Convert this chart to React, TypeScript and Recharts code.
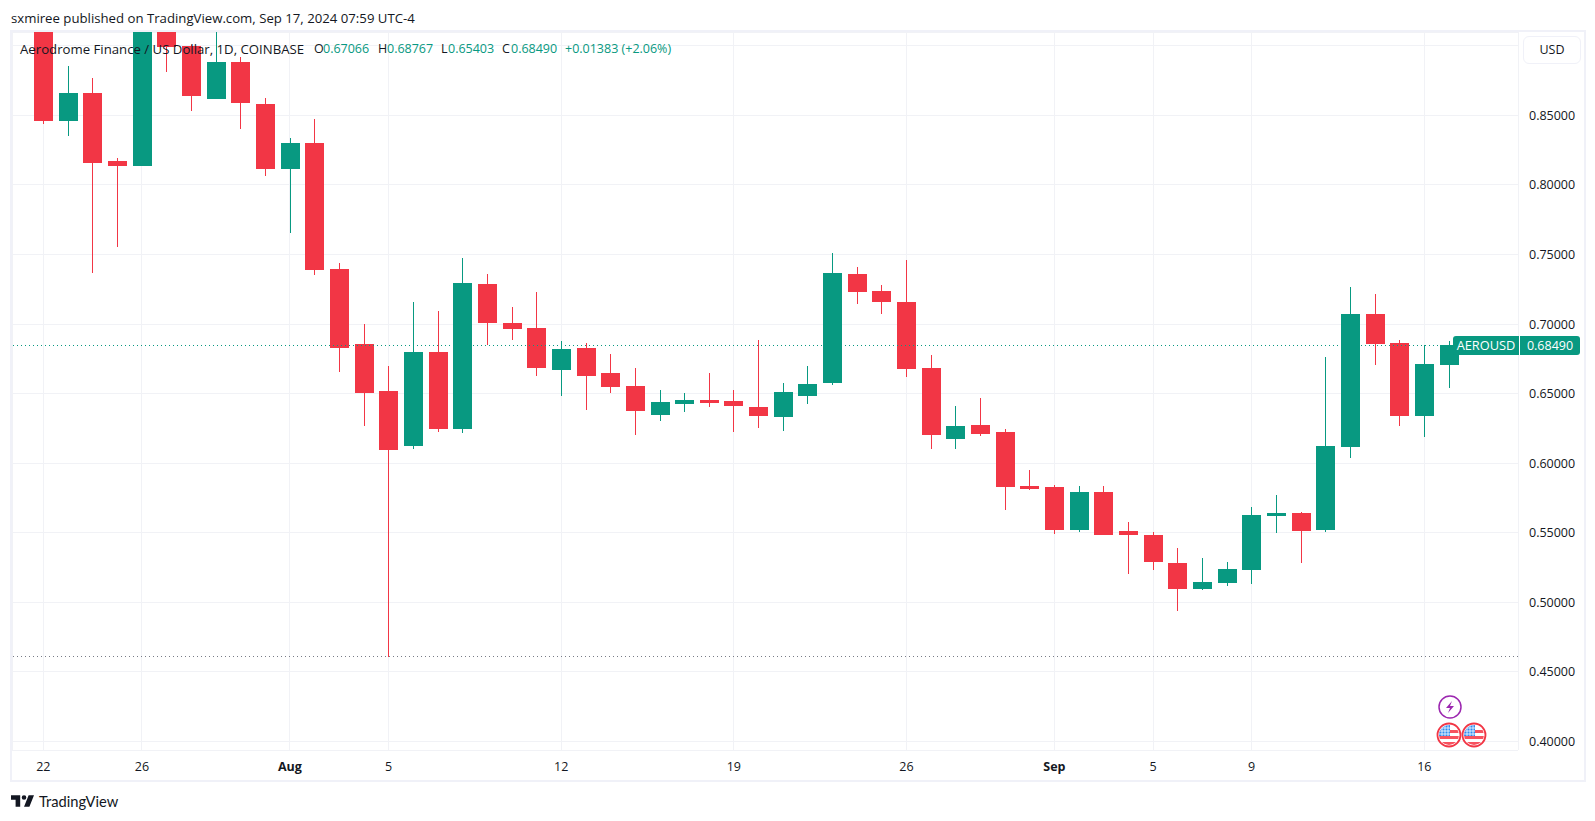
import { Bar, CartesianGrid, ComposedChart, ReferenceLine, XAxis, YAxis } from "recharts";

const UP = "#089981";
const DOWN = "#F23645";
const GRID = "#f1f2f6";
const FRAME = "#f0f1f8";
const INK = "#131722";
const FONT = "'Open Sans', sans-serif";

const months = [
  ["Jul", 22, 31],
  ["Aug", 1, 31],
  ["Sep", 1, 17],
] as const;

const dates: string[] = [];
months.forEach(([m, from, to]) => {
  for (let d = from; d <= to; d++) dates.push(`${m} ${d}`);
});

const opens = [
  0.93, 0.8462, 0.8661, 0.8172, 0.8138, 0.925, 0.8998, 0.862, 0.8883, 0.8581,
  0.8117, 0.8301, 0.7396, 0.6857, 0.6519, 0.6123, 0.6799, 0.6246, 0.7288, 0.7007,
  0.6971, 0.667, 0.6828, 0.6648, 0.6555, 0.6346, 0.6425, 0.6454, 0.6447, 0.6404,
  0.6332, 0.6483, 0.6576, 0.736, 0.7237, 0.7158, 0.6684, 0.6174, 0.6274, 0.6224,
  0.5836, 0.5829, 0.552, 0.5793, 0.5512, 0.5484, 0.5283, 0.5096, 0.5139, 0.5232,
  0.562, 0.5642, 0.552, 0.6116, 0.7072, 0.6864, 0.6339, 0.67066,
];
const closes = [
  0.8462, 0.8661, 0.816, 0.8138, 0.92, 0.8994, 0.8641, 0.8883, 0.8591, 0.8117,
  0.8301, 0.7391, 0.6828, 0.6504, 0.6097, 0.6799, 0.6246, 0.7295, 0.7007, 0.6964,
  0.6684, 0.6821, 0.6627, 0.6547, 0.6375, 0.644, 0.6454, 0.6432, 0.6411, 0.6339,
  0.6512, 0.6569, 0.7367, 0.723, 0.7158, 0.6677, 0.6202, 0.6267, 0.621, 0.5829,
  0.5814, 0.552, 0.5793, 0.5484, 0.5484, 0.529, 0.5096, 0.5146, 0.5239, 0.5628,
  0.5642, 0.5512, 0.6123, 0.7072, 0.6857, 0.6339, 0.6713, 0.6849,
];
const highs = [
  0.94, 0.8855, 0.8768, 0.8193, 0.925, 0.93, 0.9005, 0.92, 0.8919, 0.8625,
  0.8337, 0.8474, 0.7439, 0.7, 0.6698, 0.7158, 0.7094, 0.7475, 0.736, 0.7122,
  0.723, 0.6878, 0.6864, 0.6785, 0.6684, 0.6526, 0.6504, 0.6648, 0.6526, 0.6885,
  0.6576, 0.6698, 0.7511, 0.741, 0.7281, 0.746, 0.6777, 0.6411, 0.6468, 0.6246,
  0.5951, 0.5843, 0.5836, 0.5836, 0.5577, 0.5505, 0.539, 0.5318, 0.529, 0.5685,
  0.5771, 0.5649, 0.6763, 0.7266, 0.7216, 0.6885, 0.6849, 0.68767,
];
const lows = [
  0.8438, 0.8351, 0.7369, 0.7556, 0.8138, 0.8811, 0.8534, 0.862, 0.8402, 0.8064,
  0.7657, 0.7355, 0.6655, 0.6267, 0.461, 0.6102, 0.6224, 0.6217, 0.6849, 0.6885,
  0.6627, 0.6483, 0.6382, 0.6504, 0.6202, 0.6303, 0.6368, 0.6404, 0.6224, 0.6253,
  0.6231, 0.6425, 0.6562, 0.7144, 0.7072, 0.6619, 0.6102, 0.6102, 0.6195, 0.5663,
  0.5807, 0.5491, 0.5505, 0.5484, 0.5203, 0.5232, 0.4937, 0.5088, 0.5117, 0.5132,
  0.5498, 0.5283, 0.5505, 0.6037, 0.6706, 0.6267, 0.6188, 0.65403,
];

const dateTicks = ["Jul 22", "Jul 26", "Aug 1", "Aug 5", "Aug 12", "Aug 19", "Aug 26", "Sep 1", "Sep 5", "Sep 9", "Sep 16"];
const tickLabels = ["22", "26", "Aug", "5", "12", "19", "26", "Sep", "5", "9", "16"];
const priceTicks = [0.4, 0.45, 0.5, 0.55, 0.6, 0.65, 0.7, 0.75, 0.8, 0.85, 0.9];

const lastPrice = 0.6849;
const periodLow = 0.461;

const legendQuote = [
  { left: 314, text: "O", color: INK },
  { left: 323, text: "0.67066", color: UP },
  { left: 378, text: "H", color: INK },
  { left: 387, text: "0.68767", color: UP },
  { left: 441, text: "L", color: INK },
  { left: 448, text: "0.65403", color: UP },
  { left: 502, text: "C", color: INK },
  { left: 511, text: "0.68490", color: UP },
  { left: 565, text: "+0.01383 (+2.06%)", color: UP },
];

const table = dates.map((date, i) => ({
  date,
  wick: [lows[i], highs[i]],
  body: [Math.min(opens[i], closes[i]), Math.max(opens[i], closes[i])],
  color: closes[i] >= opens[i] ? UP : DOWN,
}));

const CandleRect = (props: any) => {
  const { x, y, width, height, payload } = props;
  const top = Math.round(y);
  return (
    <rect
      x={Math.round(x)}
      y={top}
      width={Math.round(width)}
      height={Math.max(1, Math.round(y + height) - top)}
      fill={payload.color}
    />
  );
};

const DateTick = (props: any) => {
  const { x, y, payload } = props;
  const label = tickLabels[dateTicks.indexOf(payload.value)];
  const isMonth = label === "Aug" || label === "Sep";
  return (
    <text x={x} y={y} dy={13} textAnchor="middle" fontFamily={FONT} fontSize={12.5} fontWeight={isMonth ? 700 : 400} fill={INK}>
      {label}
    </text>
  );
};

// the 0.90 level keeps its grid line, but the USD button sits where its label would be
const PriceTick = (props: any) => {
  const { x, y, payload } = props;
  if (payload.value >= 0.9) return null;
  return (
    <text x={x} y={y} dy={4.5} fontFamily={FONT} fontSize={12.5} fill={INK}>
      {payload.value.toFixed(5)}
    </text>
  );
};

const Label = ({ left, top, color = INK, size = 12.5, family = FONT, children }: any) => (
  <span style={{ position: "absolute", left, top, color, fontSize: size, fontFamily: family, lineHeight: "18px", whiteSpace: "pre" }}>
    {children}
  </span>
);

const Flag = ({ left, top, id }: { left: number; top: number; id: string }) => (
  <svg style={{ position: "absolute", left, top }} width={26} height={26} viewBox="0 0 26 26">
    <defs>
      <clipPath id={id}>
        <circle cx={13} cy={13} r={10} />
      </clipPath>
    </defs>
    <circle cx={13} cy={13} r={11.5} fill="#fff" stroke={DOWN} strokeWidth={1.8} />
    <g clipPath={`url(#${id})`}>
      <rect x={2} y={8} width={22} height={3} fill="#f7525f" />
      <rect x={2} y={14} width={22} height={3} fill="#f7525f" />
      <rect x={2} y={20} width={22} height={3} fill="#f7525f" />
      <rect x={3} y={3} width={11} height={11} fill="#2e8bf0" />
      <path d="M6 3v11M9 3v11M12 3v11M3 6h11M3 9h11M3 12h11" stroke="#fff" strokeWidth={0.8} />
    </g>
  </svg>
);

export default function App() {
  return (
    <div style={{ position: "absolute", left: 0, top: 0, width: 1595, height: 821, background: "#fff", overflow: "hidden" }}>
      <Label left={11} top={9} size={13.2}>sxmiree published on TradingView.com, Sep 17, 2024 07:59 UTC-4</Label>

      <div style={{ position: "absolute", left: 0, top: 0 }}>
        <ComposedChart width={1595} height={821} data={table} margin={{ top: 32, right: 11, bottom: 41, left: 12 }}>
          <CartesianGrid xAxisId="candle" stroke={GRID} shapeRendering="crispEdges" />
          <XAxis
            xAxisId="candle"
            dataKey="date"
            ticks={dateTicks}
            interval={0}
            height={30}
            padding={{ left: 19, right: 56.7 }}
            tickLine={false}
            axisLine={false}
            tick={<DateTick />}
          />
          <XAxis xAxisId="wick" dataKey="date" hide padding={{ left: 19, right: 56.7 }} />
          <YAxis
            orientation="right"
            width={66}
            domain={[0.39385, 0.90987]}
            allowDataOverflow
            ticks={priceTicks}
            interval={0}
            tickLine={false}
            axisLine={false}
            tickSize={0}
            tickMargin={11}
            tick={<PriceTick />}
          />
          <ReferenceLine xAxisId="candle" y={periodLow} stroke="#787b86" strokeDasharray="1 3" shapeRendering="crispEdges" />
          <ReferenceLine xAxisId="candle" y={lastPrice} stroke={UP} strokeDasharray="1 3" shapeRendering="crispEdges" />
          <Bar xAxisId="wick" dataKey="wick" barSize={1} shape={<CandleRect />} isAnimationActive={false} />
          <Bar xAxisId="candle" dataKey="body" barSize={19} shape={<CandleRect />} isAnimationActive={false} />
        </ComposedChart>
      </div>

      <div style={{ position: "absolute", left: 10, top: 30, width: 1572, height: 748, border: `2px solid ${FRAME}` }} />

      <Label left={20} top={40} size={13.2}>Aerodrome Finance / US Dollar, 1D, COINBASE</Label>
      {legendQuote.map((q) => (
        <Label key={q.left} left={q.left} top={40} color={q.color}>{q.text}</Label>
      ))}

      <div
        style={{
          position: "absolute", left: 1523, top: 36, width: 56, height: 26, background: "#fff",
          border: `1px solid ${FRAME}`, borderRadius: 6, textAlign: "center", lineHeight: "26px",
          fontFamily: FONT, fontSize: 12.5, color: INK,
        }}
      >
        USD
      </div>

      <div
        style={{
          position: "absolute", left: 1453, top: 336, width: 66, height: 19, background: UP, color: "#fff",
          borderRadius: "3px 0 0 3px", textAlign: "center", lineHeight: "19px", fontFamily: FONT, fontSize: 12.8,
        }}
      >
        AEROUSD
      </div>
      <div
        style={{
          position: "absolute", left: 1520, top: 336, width: 60, height: 19, background: UP, color: "#fff",
          borderRadius: "0 3px 3px 0", textAlign: "center", lineHeight: "19px", fontFamily: FONT, fontSize: 12.5,
        }}
      >
        0.68490
      </div>

      <svg style={{ position: "absolute", left: 1437, top: 694 }} width={26} height={26} viewBox="0 0 26 26">
        <circle cx={13} cy={13} r={11} fill="#fff" stroke="#9c27b0" strokeWidth={1.5} />
        <path d="M15 7l-6 7h4l-2 5 6-7h-4z" fill="#9c27b0" />
      </svg>
      <Flag left={1436} top={722} id="flag-a" />
      <Flag left={1461} top={722} id="flag-b" />

      <svg style={{ position: "absolute", left: 11, top: 795 }} width={23} height={12} viewBox="2 6 30 15">
        <path d="M14 6H2v6h6v9h6V6Zm12 15h-7l6-15h7l-6 15Zm-7-9a3 3 0 1 0 0-6 3 3 0 0 0 0 6Z" fill={INK} />
      </svg>
      <Label left={39} top={792} size={14.7} family="Lato, sans-serif">TradingView</Label>
    </div>
  );
}
